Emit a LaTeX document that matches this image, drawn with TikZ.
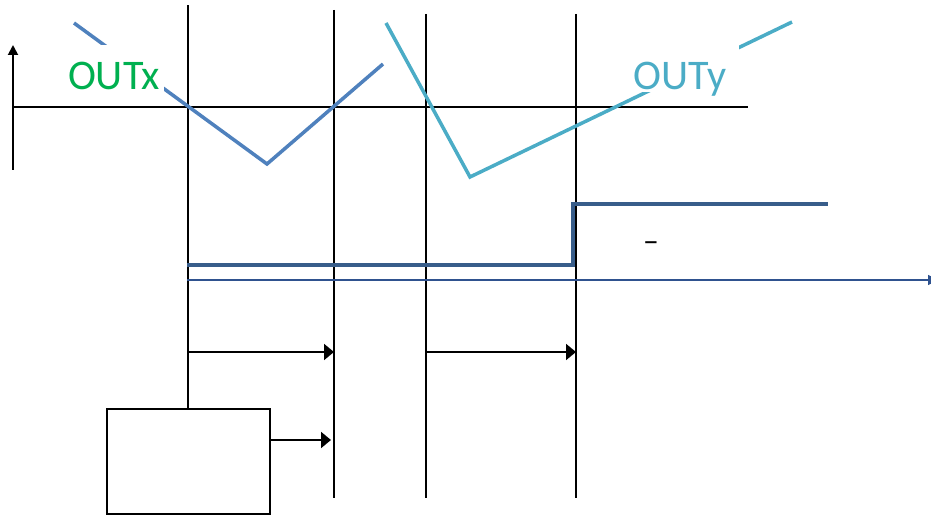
\documentclass[tikz,border=0pt]{standalone}
\usepackage{fontspec}
\setmainfont{Carlito}
\usetikzlibrary{arrows.meta}
\definecolor{outxblue}{RGB}{79,129,189}
\definecolor{outycyan}{RGB}{75,172,198}
\definecolor{stepblue}{RGB}{56,93,138}
\definecolor{baseblue}{RGB}{47,82,143}
\definecolor{labelgreen}{RGB}{0,176,80}
\begin{document}
\begin{tikzpicture}[x=0.02cm,y=-0.02cm,>={Triangle[length=0.2cm,width=0.32cm]},
    guide/.style={line width=1.1pt},
    wave/.style={line width=2pt},
    outlabel/.style={fill=white,font=\fontsize{24}{28}\selectfont,anchor=base,text height=0.86cm,text depth=0pt,inner ysep=0.04cm}]
\useasboundingbox (0,0) rectangle (931,517);
\draw[-{Triangle[length=0.2cm,width=0.2cm]},guide](13,170)--(13,45);
\draw[guide](13,107)--(748,107);

\foreach \x/\y in {334/10,426/14,576/14}
{
    \draw[guide](\x,\y)--(\x,498);
}
\node[draw,guide,anchor=north west,minimum width=3.26cm,minimum height=2.1cm,inner sep=0pt] (box) at (106,408) {};
\coordinate (top) at (box.north |- 0,5);
\draw[guide](box.north)--(top);

\draw[wave,outxblue](74,23)--(267,164)--(383,64);
\draw[wave,outycyan](386,23)--(470,177)--(792,22);
\node[outlabel,text=labelgreen,inner xsep=0.08cm] (outx) at (114,90) {OUTx};
\node[outlabel,text=outycyan,inner xsep=0.26cm] (outy) at (680,90) {OUTy};

\draw[stepblue,line width=2.3pt](187,265)-|(573,204)--(828,204);
\draw[-{Triangle[length=0.2cm,width=0.2cm]},baseblue,line width=1pt](187,280)--(938,280);
\node[font=\fontsize{18}{20}\selectfont] (dash) at (651,247) {–};

\coordinate (boxarrow) at (331,440);
\draw[->,guide](187,352)--(334,352);
\draw[->,guide](426,352)--(576,352);
\draw[->,guide](box.east |- boxarrow)--(boxarrow);
\end{tikzpicture}
\end{document}
